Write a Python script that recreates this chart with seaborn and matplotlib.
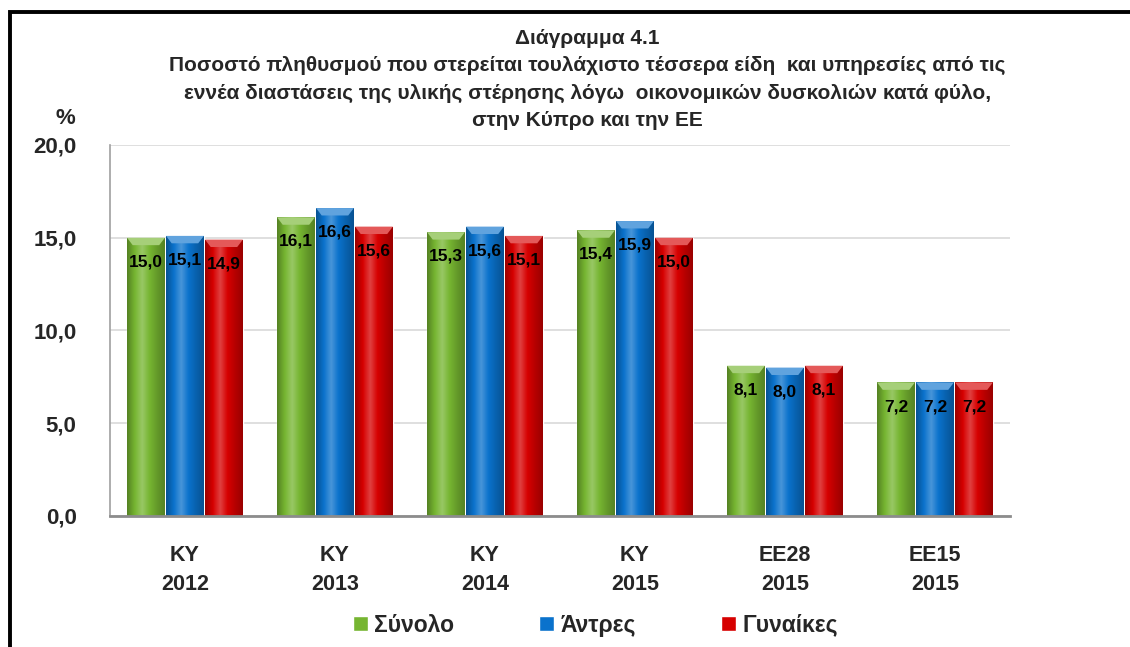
import matplotlib
matplotlib.use("Agg")
import matplotlib.pyplot as plt
import numpy as np
import pandas as pd
import seaborn as sns
from matplotlib.colors import LinearSegmentedColormap, to_rgb
from matplotlib.patches import Rectangle, Polygon

categories = ["ΚΥ\n2012", "ΚΥ\n2013", "ΚΥ\n2014", "ΚΥ\n2015", "ΕΕ28\n2015", "ΕΕ15\n2015"]
series_names = ["Σύνολο", "Άντρες", "Γυναίκες"]
total = [15.0, 16.1, 15.3, 15.4, 8.1, 7.2]
men = [15.1, 16.6, 15.6, 15.9, 8.0, 7.2]
women = [14.9, 15.6, 15.1, 15.0, 8.1, 7.2]
yticks = [0, 5, 10, 15, 20]

colors = ["#76B531", "#0A72CC", "#D60000"]

title = ("Διάγραμμα 4.1\n"
         "Ποσοστό πληθυσμού που στερείται τουλάχιστο τέσσερα είδη  και υπηρεσίες από τις\n"
         "εννέα διαστάσεις της υλικής στέρησης λόγω  οικονομικών δυσκολιών κατά φύλο,\n"
         "στην Κύπρο και την ΕΕ")

df = pd.DataFrame({
    "cat": categories * 3,
    "series": [s for s in series_names for _ in categories],
    "value": total + men + women,
})

sns.set_theme(style="white")
plt.rcParams["font.family"] = ["Liberation Sans", "DejaVu Sans"]
plt.rcParams["font.weight"] = "bold"

fig = plt.figure(figsize=(11.3, 6.47), dpi=100)
ax = fig.add_axes([0.0973, 0.2025, 0.7965, 0.5734])

sns.barplot(data=df, x="cat", y="value", hue="series", palette=colors,
            width=0.78, gap=0.03, ax=ax, saturation=1, legend=True)


def shade(c):
    base = np.array(to_rgb(c))
    dark = base * 0.72
    light = np.clip(base + (1 - base) * 0.25, 0, 1)
    return LinearSegmentedColormap.from_list("g", [dark, base, light, base, base * 0.85, dark])


# gradient fill, bevelled top and value labels, placed from the bars seaborn drew
for container, col in zip(ax.containers, colors):
    cmap = shade(col)
    base = np.array(to_rgb(col))
    top_col = np.clip(base + (1 - base) * 0.35, 0, 1)
    for patch in container:
        x0, w, h = patch.get_x(), patch.get_width(), patch.get_height()
        grad = np.linspace(0, 1, 64).reshape(1, -1)
        im = ax.imshow(grad, cmap=cmap, extent=(x0, x0 + w, 0, h), aspect="auto", zorder=2.5)
        im.set_clip_path(patch)
        bevel = Polygon([(x0, h), (x0 + w, h), (x0 + w * 0.85, h - 0.4), (x0 + w * 0.15, h - 0.4)],
                        closed=True, facecolor=top_col, edgecolor="none", zorder=2.6)
        ax.add_patch(bevel)
        ax.text(x0 + w / 2, h - 1.3, f"{h:.1f}".replace(".", ","), ha="center", va="center",
                fontsize=12.5, fontweight="bold", color="black", zorder=4)

ax.set_xlim(-0.5, len(categories) - 0.5)
ax.set_ylim(0, 20)
ax.set_yticks(yticks)
ax.set_yticklabels([f"{v:.1f}".replace(".", ",") for v in yticks], fontsize=16, fontweight="bold")
ax.set_xticks(range(len(categories)))
ax.set_xticklabels(categories, fontsize=15.5, fontweight="bold", linespacing=1.5)
ax.tick_params(axis="y", length=0, pad=24)
ax.tick_params(axis="x", length=0, pad=21)
ax.set_xlabel("")
ax.set_ylabel("")
ax.yaxis.grid(True, color="#d9d9d9", linewidth=1.2)
ax.set_axisbelow(True)
for s in ["top", "right"]:
    ax.spines[s].set_visible(False)
ax.spines["left"].set_color("#a0a0a0")
ax.spines["left"].set_linewidth(1.2)
ax.spines["bottom"].set_color("#8c8c8c")
ax.spines["bottom"].set_linewidth(2)

handles, labels = ax.get_legend_handles_labels()
ax.legend(handles, labels, loc="center", bbox_to_anchor=(0.527, 0.034),
          bbox_transform=fig.transFigure, ncol=3, frameon=False,
          handlelength=0.65, handleheight=0.65, handletextpad=0.3, columnspacing=3.7,
          prop={"size": 16.5, "weight": "bold"})

fig.text(0.52, 0.955, title, ha="center", va="top", fontsize=15, fontweight="bold",
         linespacing=1.55)
fig.text(0.058, 0.800, "%", ha="center", va="bottom", fontsize=16, fontweight="bold")

fig.patches.append(Rectangle((9.5 / 1130, -0.1), 1.2, 1.1 - 11.5 / 647, transform=fig.transFigure,
                             fill=False, edgecolor="black", linewidth=2.8, clip_on=False))

fig.savefig("out.png", dpi=100)
